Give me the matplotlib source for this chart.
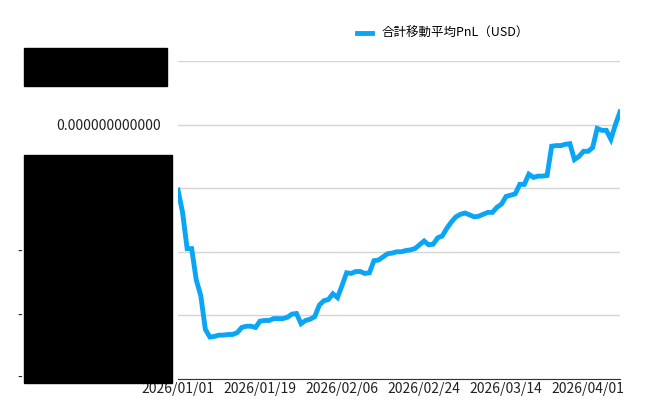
import matplotlib
matplotlib.use("Agg")
import matplotlib.pyplot as plt
import matplotlib.dates as mdates
from matplotlib.patches import Rectangle
import numpy as np
import datetime as dt

plt.rcParams['font.family'] = ['Noto Sans CJK JP', 'DejaVu Sans']

start = dt.date(2026, 1, 1)
values = [-1.03,-1.38,-1.95,-1.95,-2.44,-2.69,-3.22,-3.34,-3.33,-3.31,-3.31,-3.30,-3.30,-3.27,-3.19,-3.17,-3.17,-3.19,
          -3.09,-3.08,-3.08,-3.05,-3.05,-3.05,-3.03,-2.98,-2.97,-3.13,-3.08,-3.06,-3.02,-2.84,-2.77,-2.75,-2.66,-2.72,
          -2.53,-2.33,-2.34,-2.31,-2.31,-2.34,-2.33,-2.14,-2.13,-2.08,-2.03,-2.02,-2.00,-2.00,-1.98,-1.97,-1.95,-1.89,
          -1.83,-1.89,-1.88,-1.78,-1.75,-1.63,-1.53,-1.45,-1.41,-1.39,-1.42,-1.45,-1.44,-1.41,-1.38,-1.38,-1.30,-1.25,
          -1.13,-1.11,-1.09,-0.94,-0.94,-0.78,-0.83,-0.81,-0.81,-0.80,-0.34,-0.33,-0.33,-0.31,-0.30,-0.55,-0.50,-0.42,
          -0.42,-0.36,-0.06,-0.09,-0.09,-0.23,0.00,0.20]
dates = [start + dt.timedelta(days=i) for i in range(len(values))]
tick_dates = [dt.date(2026,1,1), dt.date(2026,1,19), dt.date(2026,2,6), dt.date(2026,2,24), dt.date(2026,3,14), dt.date(2026,4,1)]
yticks = [-4, -3, -2, -1, 0, 1]
legend_label = '合計移動平均PnL（USD）'

fig = plt.figure(figsize=(6.71, 4.15), dpi=100)
ax = fig.add_axes([178/671, 36/415, 442/671, 318/415])
ax.plot(dates, values, color='#0aa5f5', lw=3.5, label=legend_label, solid_joinstyle='miter')
ax.set_ylim(-4, 1)
ax.set_xlim(dt.date(2026,1,1), dt.date(2026,4,8))
ax.set_yticks(yticks)
ax.set_yticklabels(['', '', '', '', '0.000000000000', ''])
ax.set_xticks(tick_dates)
ax.xaxis.set_major_formatter(mdates.DateFormatter('%Y/%m/%d'))
ax.tick_params(axis='both', length=0, labelsize=10, pad=12, colors='#222222')
ax.tick_params(axis='x', pad=2)
ax.grid(axis='y', color='#d5d5d5', lw=1)
for s in ['top', 'right', 'left']:
    ax.spines[s].set_visible(False)
ax.spines['bottom'].set_color('#333333')
ax.legend(loc='lower center', bbox_to_anchor=(0.6, 1.03), frameon=False, fontsize=9, handlelength=1.2)

for y in [252, 316, 378]:
    fig.text(20/671, 1 - y/415, '-', fontsize=10, va='center', ha='center', color='#222222')
fig.patches.append(Rectangle((24/671, 1-86/415), 143/671, 38/415, transform=fig.transFigure, color='black', zorder=10))
fig.patches.append(Rectangle((24/671, 1-383/415), 148/671, 228/415, transform=fig.transFigure, color='black', zorder=10))

fig.savefig('out.png', dpi=100)
